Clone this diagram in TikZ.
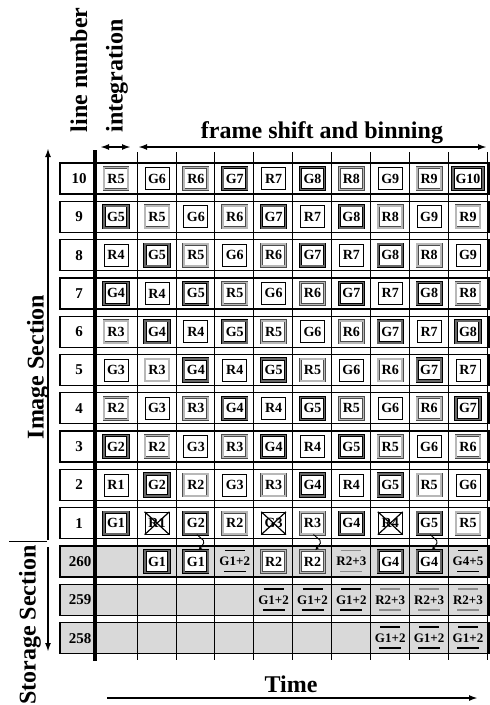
\documentclass[tikz,border=0pt]{standalone}
\usepackage{fontspec}
\setmainfont{Liberation Serif}
\usetikzlibrary{arrows.meta}
\newcommand\seqlab[1]{\ifcase#1 G1\or R1\or G2\or R2\or G3\or R3\or G4\or R4\or G5\or R5\or G6\or R6\or G7\or R7\or G8\or R8\or G9\or R9\or G10\fi}
\newcommand\seqsty[1]{\ifcase#1 g\or p\or g\or r\or p\or r\or g\or p\or g\or r\or p\or r\or g\or p\or g\or r\or p\or r\or g\fi}
\tikzset{
 rowband/.style={draw=black, line width=1.3pt},
 storeband/.style={rowband, fill=black!15},
 colline/.style={line width=0.6pt},
 bar/.style={line width=3.5pt},
 cellbase/.style={font=\fontsize{14}{14}\bfseries, minimum width=24pt, minimum height=22pt, inner sep=2.5pt, fill=white},
 cellg/.style={cellbase, draw=black, line width=0.8pt, double=black!60, double distance=1.6pt},
 cellr/.style={cellbase, draw=black!70, line width=0.6pt, double=black!28, double distance=1.6pt},
 cellp/.style={cellbase, draw=black, line width=0.8pt, minimum width=24pt, minimum height=22pt},
 sumtxt/.style={font=\fontsize{13}{13}\bfseries, inner sep=1pt},
 sumg/.style={line width=1.4pt, black},
 sumr/.style={line width=1.4pt, black!45},
 rowlab/.style={font=\fontsize{15}{15}\bfseries},
 big/.style={font=\fontsize{24}{24}\bfseries, inner sep=0pt},
 axis/.style={line width=1.8pt, -{Latex[length=9pt,width=6pt]}},
 axistwo/.style={line width=1.8pt, {Latex[length=9pt,width=6pt]}-{Latex[length=9pt,width=6pt]}},
 cross/.style={line width=1.2pt},
 shiftarrow/.style={line width=0.9pt, rounded corners=2pt, -{Stealth[length=4pt,width=3.5pt]}},
}
\begin{document}
\begin{tikzpicture}[x=1pt,y=-1pt]
\useasboundingbox (0,0) rectangle (490,705);
% image rows
\foreach \k in {1,...,10} {
  \pgfmathsetmacro\yt{163+(10-\k)*38.3}
  \draw[rowband] (60,\yt) rectangle (489,\yt+31);
  \node[rowlab] (lab\k) at (79,\yt+15.5) {\k};
}
% storage rows
\foreach \j/\n in {1/260,2/259,3/258} {
  \pgfmathsetmacro\yt{507.7+\j*38.3}
  \draw[storeband] (60,\yt) rectangle (489,\yt+31);
  \node[rowlab] (lab\n) at (80,\yt+15.5) {\n};
}
% column lines
\foreach \i in {0,...,9} \draw[colline] (137+\i*38.875,152) -- (137+\i*38.875,660);
\draw[bar] (95,150) -- (95,661);
% image cells
\foreach \k in {1,...,10} {
 \foreach \c in {1,...,10} {
  \pgfmathtruncatemacro\idx{\k+\c-2}
  \edef\sty{\seqsty{\idx}}
  \edef\lab{\seqlab{\idx}}
  \pgfmathsetmacro\xx{\c==1 ? 116 : 157+(\c-2)*38.875}
  \pgfmathsetmacro\yy{178.5+(10-\k)*38.3}
  \node[cell\sty] (c\k-\c) at (\xx,\yy) {\lab};
 }
}
\foreach \c in {2,5,8}
  \draw[cross] (c1-\c.north west) -- (c1-\c.south east) (c1-\c.north east) -- (c1-\c.south west);
% storage cells
\node[cellg] (s260-2) at (157,561.5) {G1};
\node[cellg] (s260-3) at (195.875,561.5) {G1};
\node[sumtxt] (s260-4) at (234.75,561.5) {G1+2};
\node[cellr] (s260-5) at (273.625,561.5) {R2};
\node[cellr] (s260-6) at (312.5,561.5) {R2};
\node[sumtxt] (s260-7) at (351.375,561.5) {R2+3};
\node[cellg] (s260-8) at (390.25,561.5) {G4};
\node[cellg] (s260-9) at (429.125,561.5) {G4};
\node[sumtxt] (s260-10) at (468,561.5) {G4+5};
\node[sumtxt] (s259-5) at (273.625,599.8) {G1+2};
\node[sumtxt] (s259-6) at (312.5,599.8) {G1+2};
\node[sumtxt] (s259-7) at (351.375,599.8) {G1+2};
\node[sumtxt] (s259-8) at (390.25,599.8) {R2+3};
\node[sumtxt] (s259-9) at (429.125,599.8) {R2+3};
\node[sumtxt] (s259-10) at (468,599.8) {R2+3};
\node[sumtxt] (s258-8) at (390.25,638.1) {G1+2};
\node[sumtxt] (s258-9) at (429.125,638.1) {G1+2};
\node[sumtxt] (s258-10) at (468,638.1) {G1+2};
\foreach \n/\s in {s260-4/g,s260-7/r,s260-10/g,s259-5/g,s259-6/g,s259-7/g,s259-8/r,s259-9/r,s259-10/r,s258-8/g,s258-9/g,s258-10/g}
  \draw[sum\s] ([shift={(-10,-11)}]\n.center) -- ([shift={(10,-11)}]\n.center)
               ([shift={(-11,10)}]\n.center) -- ([shift={(11,10)}]\n.center);
% shift arrows
\foreach \c in {3,6,9}
  \draw[shiftarrow] ([xshift=1pt]c1-\c.south) -- ++(8,7) -- ([xshift=3pt]s260-\c.north);
% left axes
\coordinate (imgbot) at (48,540);
\coordinate (imgtop) at (48,148);
\coordinate (stotop) at (48,547);
\coordinate (stobot) at (48,652);
\coordinate (brl) at (9,541);
\coordinate (brr) at (47,541);
\draw[axis] (imgbot) -- (imgtop);
\draw[axis] (stotop) -- (stobot);
\draw[line width=1pt] (brl) -- (brr);
\node[big, rotate=90] (imgsec) at (38,367) {Image Section};
\node[big, rotate=90] (stsec) at (30,625) {Storage Section};
% top
\node[big, rotate=90] (lnum) at (79,70) {line number};
\node[big, rotate=90] (integ) at (117,76) {integration};
\coordinate (ia) at (100,147);
\coordinate (ib) at (131,147);
\coordinate (fa) at (138,147);
\coordinate (fb) at (487,147);
\draw[axistwo] (ia) -- (ib);
\draw[axistwo] (fa) -- (fb);
\node[big, anchor=base] (fsb) at (322,138) {frame shift and binning};
% bottom
\node[big, anchor=base] (time) at (291,692) {Time};
\coordinate (ta) at (107,698);
\coordinate (tb) at (478,698);
\draw[axis] (ta) -- (tb);
\end{tikzpicture}
\end{document}
